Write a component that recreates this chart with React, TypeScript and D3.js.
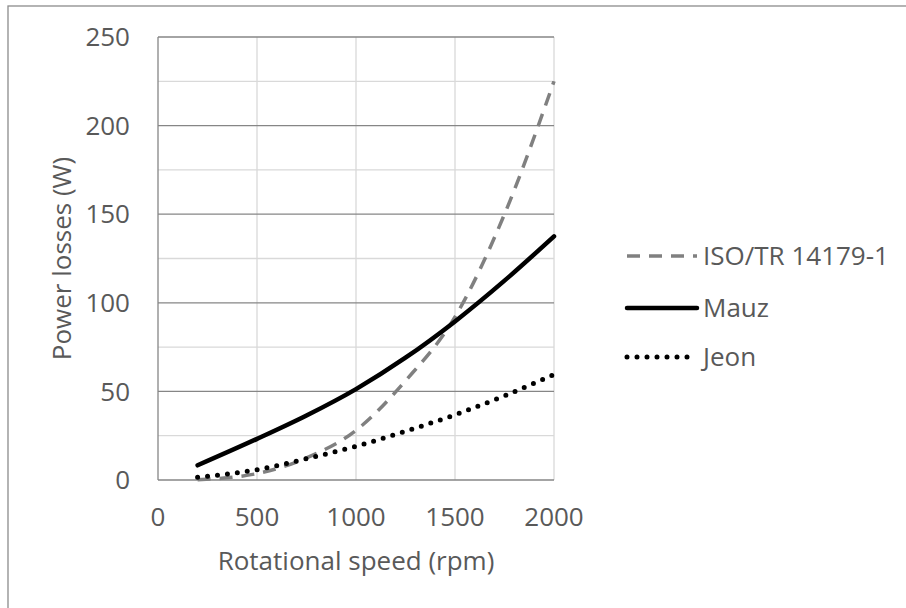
import React from "react";
import * as d3 from "d3";

// Rotational speed samples (rpm)
const speeds = [200, 500, 750, 1000, 1250, 1500, 1750, 2000];
// Power losses (W) for each model
const isoLosses = [0.2, 3.6, 12.5, 28, 56, 92, 150, 225];
const mauzLosses = [8.3, 23.2, 36.4, 51.3, 69, 89.5, 112.5, 137.5];
const jeonLosses = [1.6, 5.8, 12, 19, 27.5, 36.8, 47.5, 59.5];

const xTicks = [0, 500, 1000, 1500, 2000];
const yTicks = [0, 50, 100, 150, 200, 250];
const yMinor = [25, 75, 125, 175, 225];

const seriesNames = ["ISO/TR 14179-1", "Mauz", "Jeon"];

const W = 906;
const H = 608;
const FONT = "'Open Sans', 'Noto Sans', sans-serif";
const TEXT = "#595959";
const FS = 26;

export default function App() {
  const x = d3.scaleLinear().domain([0, 2000]).range([158, 554]);
  const y = d3.scaleLinear().domain([0, 250]).range([480, 37]);

  const line = d3
    .line<[number, number]>()
    .x((d) => x(d[0]))
    .y((d) => y(d[1]))
    .curve(d3.curveMonotoneX);

  const pts = (vals: number[]) => speeds.map((s, i) => [s, vals[i]] as [number, number]);

  const styles = [
    { vals: isoLosses, stroke: "#808080", width: 3.5, dash: "13,9", cap: "butt" as const },
    { vals: mauzLosses, stroke: "#000000", width: 4.5, dash: undefined, cap: "round" as const },
    { vals: jeonLosses, stroke: "#000000", width: 5, dash: "0,10", cap: "round" as const },
  ];

  const legendY = [256, 308, 357];

  return (
    <svg
      width={W}
      height={H}
      style={{ position: "absolute", left: 0, top: 0, background: "#fff" }}
    >
      {/* chart frame */}
      <rect x={8} y={6} width={W + 20} height={H + 20} fill="#fff" stroke="#8c8c8c" strokeWidth={1.3} />

      {/* minor horizontal gridlines */}
      {yMinor.map((v) => (
        <line key={"m" + v} x1={x(0)} x2={x(2000)} y1={y(v)} y2={y(v)} stroke="#d9d9d9" strokeWidth={1.3} />
      ))}
      {/* vertical gridlines */}
      {xTicks.slice(1).map((v) => (
        <line key={"v" + v} x1={x(v)} x2={x(v)} y1={y(0)} y2={y(250)} stroke="#d9d9d9" strokeWidth={1.3} />
      ))}
      {/* major horizontal gridlines */}
      {yTicks.map((v) => (
        <line key={"M" + v} x1={x(0)} x2={x(2000)} y1={y(v)} y2={y(v)} stroke="#868686" strokeWidth={1.3} />
      ))}
      {/* left axis line */}
      <line x1={x(0)} x2={x(0)} y1={y(0)} y2={y(250)} stroke="#868686" strokeWidth={1.3} />

      {/* y tick labels */}
      {yTicks.map((v) => (
        <text
          key={"yt" + v}
          x={130}
          y={y(v)}
          dy="0.35em"
          textAnchor="end"
          fontFamily={FONT}
          fontSize={FS}
          fill={TEXT}
        >
          {v}
        </text>
      ))}
      {/* x tick labels */}
      {xTicks.map((v) => (
        <text
          key={"xt" + v}
          x={x(v)}
          y={517}
          dy="0.35em"
          textAnchor="middle"
          fontFamily={FONT}
          fontSize={FS}
          fill={TEXT}
        >
          {v}
        </text>
      ))}

      {/* axis titles */}
      <text x={356} y={570} textAnchor="middle" fontFamily={FONT} fontSize={FS} fill={TEXT}>
        Rotational speed (rpm)
      </text>
      <text
        transform={`translate(71,${(y(0) + y(250)) / 2}) rotate(-90)`}
        textAnchor="middle"
        fontFamily={FONT}
        fontSize={FS}
        fill={TEXT}
      >
        Power losses (W)
      </text>

      {/* series */}
      {styles.map((s, i) => (
        <path
          key={"s" + i}
          d={line(pts(s.vals)) ?? ""}
          fill="none"
          stroke={s.stroke}
          strokeWidth={s.width}
          strokeDasharray={s.dash}
          strokeLinecap={s.cap}
        />
      ))}

      {/* legend */}
      {styles.map((s, i) => (
        <g key={"lg" + i}>
          <line
            x1={627}
            x2={697}
            y1={legendY[i]}
            y2={legendY[i]}
            stroke={s.stroke}
            strokeWidth={s.width}
            strokeDasharray={s.dash}
            strokeLinecap={s.cap}
          />
          <text
            x={703}
            y={legendY[i]}
            dy="0.35em"
            fontFamily={FONT}
            fontSize={FS}
            fill={TEXT}
          >
            {seriesNames[i]}
          </text>
        </g>
      ))}
    </svg>
  );
}
